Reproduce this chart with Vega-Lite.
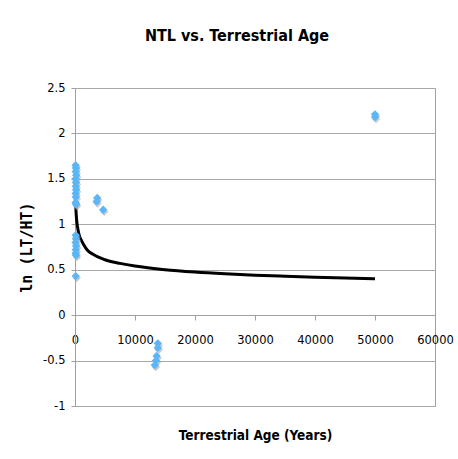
{
  "$schema": "https://vega.github.io/schema/vega-lite/v6.json",
  "autosize": {"type": "none"},
  "padding": {"left": 75, "top": 88, "right": 23, "bottom": 53},
  "width": 360,
  "height": 318,
  "background": "white",
  "title": {
    "text": "NTL vs. Terrestrial Age",
    "font": "DejaVu Sans Condensed",
    "fontSize": 16,
    "fontWeight": "bold",
    "color": "black",
    "anchor": "middle",
    "frame": "group",
    "dx": -18,
    "offset": 38
  },
  "config": {
    "view": {"stroke": "#a0a0a0", "strokeWidth": 1},
    "axis": {
      "labelFont": "DejaVu Sans",
      "labelFontSize": 11.5,
      "labelColor": "black",
      "domainColor": "#a0a0a0",
      "tickColor": "#a0a0a0",
      "gridColor": "#a8a8a8",
      "titleFont": "DejaVu Sans Condensed",
      "titleFontSize": 13.5,
      "titleFontWeight": "bold",
      "titleColor": "black"
    }
  },
  "datasets": {
    "pts": [
      {"age": 100, "ratio": 1.65}, {"age": 150, "ratio": 1.62}, {"age": 120, "ratio": 1.58},
      {"age": 200, "ratio": 1.54}, {"age": 90, "ratio": 1.5}, {"age": 160, "ratio": 1.46},
      {"age": 130, "ratio": 1.42}, {"age": 180, "ratio": 1.38}, {"age": 110, "ratio": 1.34},
      {"age": 140, "ratio": 1.3}, {"age": 100, "ratio": 1.24}, {"age": 170, "ratio": 1.22},
      {"age": 120, "ratio": 0.88}, {"age": 150, "ratio": 0.84}, {"age": 100, "ratio": 0.8},
      {"age": 180, "ratio": 0.76}, {"age": 130, "ratio": 0.72}, {"age": 110, "ratio": 0.68},
      {"age": 160, "ratio": 0.66}, {"age": 120, "ratio": 0.43},
      {"age": 3700, "ratio": 1.29}, {"age": 3600, "ratio": 1.25}, {"age": 4700, "ratio": 1.16},
      {"age": 13800, "ratio": -0.31}, {"age": 13800, "ratio": -0.36}, {"age": 13600, "ratio": -0.45},
      {"age": 13500, "ratio": -0.5}, {"age": 13300, "ratio": -0.55},
      {"age": 50000, "ratio": 2.21}, {"age": 50000, "ratio": 2.18}
    ],
    "trend": [
      {"age": 85, "ratio": 1.3}, {"age": 100, "ratio": 1.26}, {"age": 150, "ratio": 1.17},
      {"age": 200, "ratio": 1.11}, {"age": 300, "ratio": 1.03}, {"age": 500, "ratio": 0.94},
      {"age": 750, "ratio": 0.87}, {"age": 1000, "ratio": 0.83}, {"age": 1500, "ratio": 0.77},
      {"age": 2000, "ratio": 0.72}, {"age": 3000, "ratio": 0.67}, {"age": 5000, "ratio": 0.61},
      {"age": 7500, "ratio": 0.57}, {"age": 10000, "ratio": 0.54}, {"age": 15000, "ratio": 0.5},
      {"age": 20000, "ratio": 0.474}, {"age": 25000, "ratio": 0.455}, {"age": 30000, "ratio": 0.44},
      {"age": 35000, "ratio": 0.428}, {"age": 40000, "ratio": 0.417}, {"age": 45000, "ratio": 0.408},
      {"age": 50000, "ratio": 0.4}
    ]
  },
  "layer": [
    {
      "data": {"name": "trend"},
      "mark": {"type": "line", "color": "black", "strokeWidth": 3, "interpolate": "monotone"},
      "encoding": {
        "x": {
          "field": "age", "type": "quantitative",
          "scale": {"domain": [0, 60000], "nice": false},
          "axis": {
            "values": [0, 10000, 20000, 30000, 40000, 50000, 60000],
            "format": "d",
            "grid": false,
            "offset": -91,
            "tickSize": 5,
            "labelPadding": 14,
            "labelFlush": false,
            "title": "Terrestrial Age (Years)",
            "titlePadding": 83
          }
        },
        "y": {
          "field": "ratio", "type": "quantitative",
          "scale": {"domain": [-1, 2.5], "nice": false, "zero": false},
          "axis": {
            "values": [-1, -0.5, 0, 0.5, 1, 1.5, 2, 2.5],
            "labelExpr": "datum.value + ''",
            "grid": true,
            "tickSize": 4,
            "labelPadding": 6,
            "title": "ln (LT/HT)",
            "titleFont": "DejaVu Sans Mono",
            "titleFontSize": 15,
            "titlePadding": 8
          }
        }
      }
    },
    {
      "data": {"name": "pts"},
      "mark": {"type": "point", "shape": "diamond", "filled": true, "color": "#a9a9a9", "opacity": 0.6, "size": 70, "xOffset": 1, "yOffset": 2},
      "encoding": {
        "x": {"field": "age", "type": "quantitative"},
        "y": {"field": "ratio", "type": "quantitative"}
      }
    },
    {
      "data": {"name": "pts"},
      "mark": {"type": "point", "shape": "diamond", "filled": true, "color": "#5ab6f6", "opacity": 1, "size": 70},
      "encoding": {
        "x": {"field": "age", "type": "quantitative"},
        "y": {"field": "ratio", "type": "quantitative"}
      }
    }
  ]
}
